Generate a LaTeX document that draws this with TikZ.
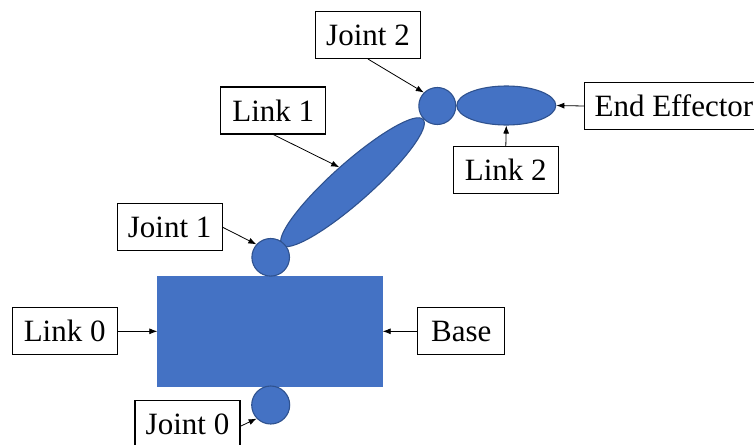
\documentclass[tikz,border=0pt]{standalone}
\usepackage{fontspec}
\setmainfont{Liberation Serif}
\usetikzlibrary{shapes.geometric,arrows.meta}
\definecolor{partblue}{HTML}{4472C4}
\definecolor{partedge}{HTML}{2F528F}
\tikzset{
  part/.style={fill=partblue, draw=partedge, line width=1.1pt, inner sep=0pt},
  jointshape/.style={part, circle, minimum size=#1},
  linkshape/.style={part, ellipse},
  labelbox/.style={draw=black, fill=white, line width=1.1pt, inner sep=0pt,
    minimum width=105pt, minimum height=47pt,
    font=\fontsize{31}{37}\selectfont},
  pointer/.style={draw=black, line width=0.8pt, -{Latex[length=8pt,width=6pt]}}
}
\begin{document}
\begin{tikzpicture}[x=1pt,y=-1pt]
  \useasboundingbox (0,0) rectangle (754,444);
  \clip (0,0) rectangle (754,444);

  % base block
  \node[fill=partblue, draw=partblue, inner sep=0pt, minimum width=225pt,
        minimum height=110pt] (base) at (270,331.3) {};

  % links
  \node[linkshape, minimum width=189pt, minimum height=39pt, rotate=41.6]
        (link1) at (352.5,182.2) {};
  \node[linkshape, minimum width=99pt, minimum height=39pt]
        (link2) at (506.3,105.5) {};

  % joints
  \node[jointshape=37.6pt] (j1) at (270.7,257.3) {};
  \node[jointshape=38pt]   (j0) at (270.7,405) {};
  \node[jointshape=37pt]   (j2) at (437.3,106) {};

  % label boxes
  \node[labelbox] (j2box)   at (368,35)      {Joint 2};
  \node[labelbox] (l1box)   at (273.3,110.5) {Link 1};
  \node[labelbox, anchor=west, inner xsep=10pt, minimum width=0pt]
        (eebox) at (584,106) {End Effector};
  \node[labelbox] (l2box)   at (505.8,170)   {Link 2};
  \node[labelbox] (j1box)   at (169.7,227.3) {Joint 1};
  \node[labelbox] (l0box)   at (64.7,331.3)  {Link 0};
  \node[labelbox, minimum width=87pt] (basebox) at (461.3,331.3) {Base};
  \node[labelbox] (j0box)   at (187.5,424.2) {Joint 0};

  % pointers
  \draw[pointer] (j2box.south) -- (j2.135);
  \draw[pointer] (l1box.south) -- (link1.north);
  \draw[pointer] (eebox.west) -- (link2.east);
  \draw[pointer] (l2box.north) -- (link2.south);
  \draw[pointer] (j1box.east) -- (j1.138);
  \draw[pointer] (l0box.east) -- (base.west);
  \draw[pointer] (basebox.west) -- (base.east);
  \draw[pointer] ([yshift=-2pt]j0box.east) -- (j0.224);
\end{tikzpicture}
\end{document}
